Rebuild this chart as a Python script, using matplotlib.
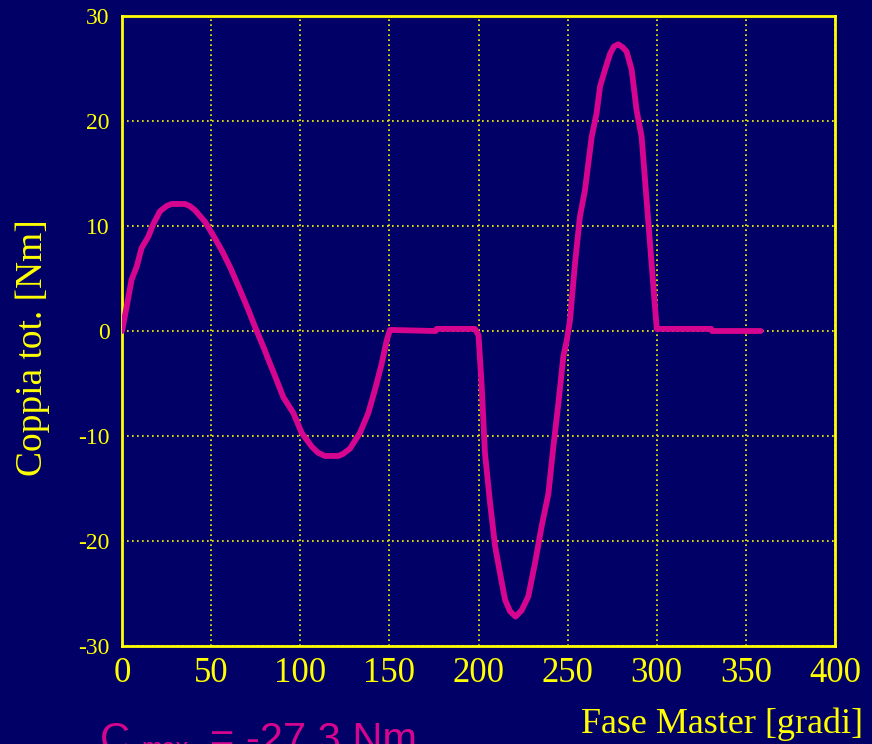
import matplotlib
matplotlib.use('Agg')
import matplotlib.pyplot as plt

# torque curve (angle in degrees, torque in Nm)
fase = [0, 2.6, 5.4, 8.2, 11, 14.8, 17.6, 21.3, 25, 27.9, 35.3, 38, 41, 46.6, 51.2, 55.9,
        60.6, 66.2, 70.9, 74.6, 79.3, 83, 86.8, 90.5, 96.1, 100.8, 106.4, 110, 113.9,
        121.4, 124, 127.9, 133.5, 138.2, 141.9, 145.7, 148.5, 150.3, 176, 176.5, 198,
        200, 201.8, 203.6, 206.5, 209.3, 212.1, 214.9, 217.7, 220.8, 224.2, 227.9,
        231.7, 235.4, 239.2, 242, 244.8, 247.6, 249.5, 251.3, 254.1, 256.9, 259.7,
        263.5, 266.2, 268.2, 271, 273.8, 276, 278.4, 281, 283.1, 285.9, 288.7, 291.5,
        293.4, 295.3, 297.1, 299, 300, 330.5, 331, 358.3]
coppia = [0, 2.3, 4.9, 6.1, 7.9, 9.0, 10.2, 11.4, 11.9, 12.1, 12.1, 11.9, 11.5, 10.4, 9.1,
          7.7, 6.1, 3.9, 2.0, 0.4, -1.5, -3.1, -4.7, -6.3, -7.8, -9.7, -11.0, -11.6,
          -11.9, -11.9, -11.7, -11.2, -9.7, -7.8, -5.6, -3.1, -0.9, 0.1, 0.0, 0.2, 0.2,
          -0.4, -5.3, -11.6, -16.4, -20.5, -23.1, -25.6, -26.7, -27.2, -26.6, -25.3,
          -22.1, -18.6, -15.5, -11.0, -6.9, -2.4, -0.9, 1.0, 6.4, 10.9, 13.4,
          18.5, 20.7, 23.3, 24.9, 26.4, 27.1, 27.3, 27.0, 26.6, 24.9, 21.0, 18.5,
          14.4, 10.3, 6.4, 2.3, 0.2, 0.2, 0.0, 0.0]

x_ticks = [0, 50, 100, 150, 200, 250, 300, 350, 400]
y_ticks = [-30, -20, -10, 0, 10, 20, 30]

navy = '#000066'
yellow = '#ffff00'
pink = '#d6058f'

plt.rcParams['font.family'] = ['Liberation Serif', 'DejaVu Serif']
plt.rcParams['axes.unicode_minus'] = False

fig = plt.figure(figsize=(8.72, 7.44), dpi=100, facecolor=navy)
ax = fig.add_axes([0.1399, 0.1317, 0.8177, 0.8468], facecolor=navy)

ax.plot(fase, coppia, color=pink, lw=4.2, solid_joinstyle='round',
        solid_capstyle='round', zorder=3)

ax.set_xlim(0, 400)
ax.set_ylim(-30, 30)
ax.set_xticks(x_ticks)
ax.set_yticks(y_ticks)
ax.tick_params(axis='x', length=0, pad=8, labelsize=25, labelcolor=yellow)
ax.tick_params(axis='y', length=0, pad=9, labelsize=17, labelcolor=yellow)
ax.grid(True, color=yellow, linestyle=(0, (1, 2)), lw=1.2)
for s in ax.spines.values():
    s.set_color(yellow)
    s.set_linewidth(2)

# axis titles
fig.text(863 / 872, 1 - 733 / 744, 'Fase Master [gradi]', color=yellow, fontsize=26,
         ha='right', va='baseline')
fig.text(33 / 872, 1 - 348 / 744, 'Coppia tot. [Nm]', color=yellow, fontsize=27,
         rotation=90, ha='center', va='center')

# annotation at the bottom (cut off by the figure edge, as in the original)
fig.text(100 / 872, -8 / 744, 'C', color=pink, fontsize=30, family='Liberation Sans',
         va='baseline')
fig.text(141 / 872, -12 / 744, 'max', color=pink, fontsize=18, family='Liberation Sans',
         va='baseline')
fig.text(210 / 872, -8 / 744, '= -27.3 Nm', color=pink, fontsize=30,
         family='Liberation Sans', va='baseline')

fig.savefig('out.png', dpi=100, facecolor=navy)
